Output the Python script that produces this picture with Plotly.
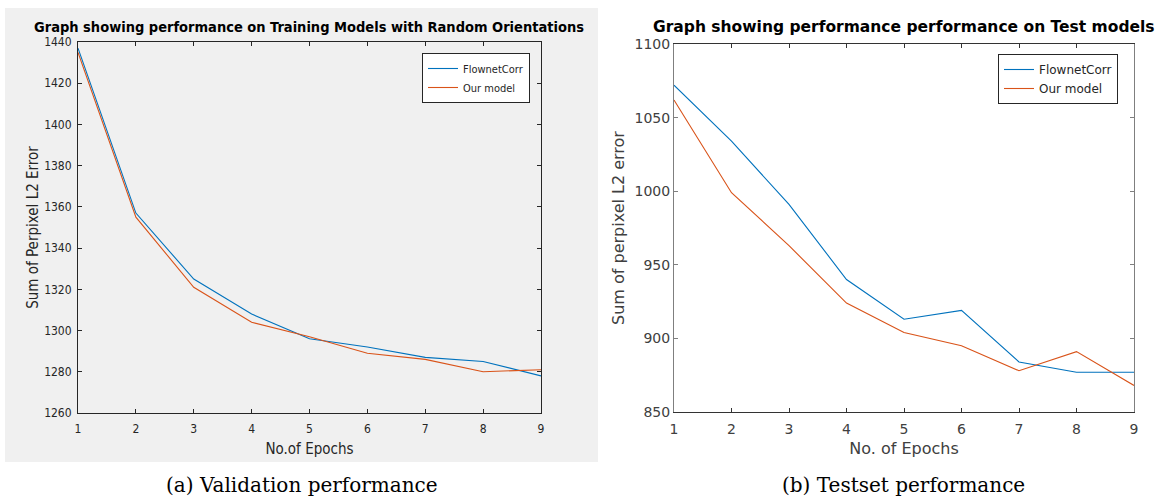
import plotly.graph_objects as go

epochs = [1, 2, 3, 4, 5, 6, 7, 8, 9]

# (a) Validation performance
val_flownet = [1437, 1357, 1325, 1308, 1296, 1292, 1287, 1285, 1278]
val_ours = [1435, 1355, 1321, 1304, 1297, 1289, 1286, 1280, 1281]

# (b) Testset performance
test_flownet = [1072, 1034, 991, 940, 913, 919, 884, 877, 877]
test_ours = [1062, 999, 963, 924, 904, 895, 878, 891, 868]

val_yticks = [1260, 1280, 1300, 1320, 1340, 1360, 1380, 1400, 1420, 1440]
test_yticks = [850, 900, 950, 1000, 1050, 1100]

BLUE = "#0072BD"
ORANGE = "#D95319"

W, H = 1168, 498


def px(x):
    return x / W


def py(y):
    return 1 - y / H


fig = go.Figure()

fig.add_trace(go.Scatter(x=epochs, y=val_flownet, mode="lines", name="FlownetCorr",
                         line=dict(color=BLUE, width=1.1), xaxis="x", yaxis="y", legend="legend"))
fig.add_trace(go.Scatter(x=epochs, y=val_ours, mode="lines", name="Our model",
                         line=dict(color=ORANGE, width=1.1), xaxis="x", yaxis="y", legend="legend"))
fig.add_trace(go.Scatter(x=epochs, y=test_flownet, mode="lines", name="FlownetCorr",
                         line=dict(color=BLUE, width=1.1), xaxis="x2", yaxis="y2", legend="legend2"))
fig.add_trace(go.Scatter(x=epochs, y=test_ours, mode="lines", name="Our model",
                         line=dict(color=ORANGE, width=1.1), xaxis="x2", yaxis="y2", legend="legend2"))

COND = "DejaVu Sans Condensed, DejaVu Sans"
left_tick = dict(family=COND, size=12, color="#262626")
left_lab = dict(family=COND, size=15, color="#262626")
right_tick = dict(family="DejaVu Sans", size=14, color="#404040")
right_lab = dict(family="DejaVu Sans", size=16, color="#404040")

ax_common = dict(showgrid=False, zeroline=False, mirror="allticks", ticks="inside",
                 ticklen=4, showline=True, linewidth=1, automargin=False)

fig.update_layout(
    width=W, height=H,
    margin=dict(l=0, r=0, t=0, b=0, pad=0, autoexpand=False),
    paper_bgcolor="white",
    plot_bgcolor="white",
    showlegend=True,
    xaxis=dict(domain=[px(78), px(541)], range=[1, 9], tickvals=epochs,
               anchor="y", linecolor="#262626", tickcolor="#262626", tickfont=left_tick,
               ticklabelstandoff=5,
               title=dict(text="No.of Epochs", font=left_lab, standoff=8), **ax_common),
    yaxis=dict(domain=[py(413), py(42)], range=[1260, 1440], tickvals=val_yticks,
               anchor="x", linecolor="#262626", tickcolor="#262626", tickfont=left_tick,
               ticklabelstandoff=3,
               title=dict(text="Sum of Perpixel L2 Error", font=left_lab, standoff=1),
               **ax_common),
    xaxis2=dict(domain=[px(674), px(1134)], range=[1, 9], tickvals=epochs,
                anchor="y2", linecolor="#333333", tickcolor="#333333", tickfont=right_tick,
                ticklabelstandoff=4,
                title=dict(text="No. of Epochs", font=right_lab, standoff=7), **ax_common),
    yaxis2=dict(domain=[py(412), py(44)], range=[850, 1100], tickvals=test_yticks,
                anchor="x2", linecolor="#7f7f7f", tickcolor="#7f7f7f", tickfont=right_tick,
                title=dict(text="Sum of perpixel L2 error", font=right_lab, standoff=5),
                **ax_common),
    legend=dict(x=px(530), y=py(53), xanchor="right", yanchor="top",
                bgcolor="white", bordercolor="#262626", borderwidth=1,
                font=dict(family=COND, size=11, color="#262626"),
                itemwidth=30, tracegroupgap=0),
    legend2=dict(x=px(1118), y=py(54), xanchor="right", yanchor="top",
                 bgcolor="white", bordercolor="#262626", borderwidth=1,
                 font=dict(family="DejaVu Sans", size=12, color="#262626"),
                 itemwidth=30, tracegroupgap=0),
    shapes=[dict(type="rect", xref="paper", yref="paper",
                 x0=px(5), x1=px(598), y0=py(462), y1=py(8),
                 fillcolor="#f0f0f0", line=dict(width=0), layer="below")],
    annotations=[
        dict(text="<b>Graph showing performance on Training Models with Random Orientations</b>",
             x=px(309), y=py(27), xref="paper", yref="paper", showarrow=False,
             xanchor="center", yanchor="middle",
             font=dict(family=COND, size=14.5, color="black")),
        dict(text="<b>Graph showing performance performance on Test models</b>",
             x=px(904), y=py(27), xref="paper", yref="paper", showarrow=False,
             xanchor="center", yanchor="middle",
             font=dict(family="DejaVu Sans", size=15.5, color="black")),
        dict(text="(a) Validation performance", x=px(302), y=py(485), xref="paper", yref="paper",
             showarrow=False, xanchor="center", yanchor="middle",
             font=dict(family="DejaVu Serif", size=20, color="black")),
        dict(text="(b) Testset performance", x=px(903), y=py(485), xref="paper", yref="paper",
             showarrow=False, xanchor="center", yanchor="middle",
             font=dict(family="DejaVu Serif", size=20, color="black")),
    ],
)

pin_script = (
    "document.documentElement.style.margin='0';"
    "document.body.style.margin='0';"
    "document.body.style.overflow='hidden';"
    "var d=document.querySelector('.plotly-graph-div');"
    "d.style.position='fixed';d.style.left='0px';d.style.top='0px';"
)

fig.write_html("out.html", post_script=pin_script, config={"displayModeBar": False})
